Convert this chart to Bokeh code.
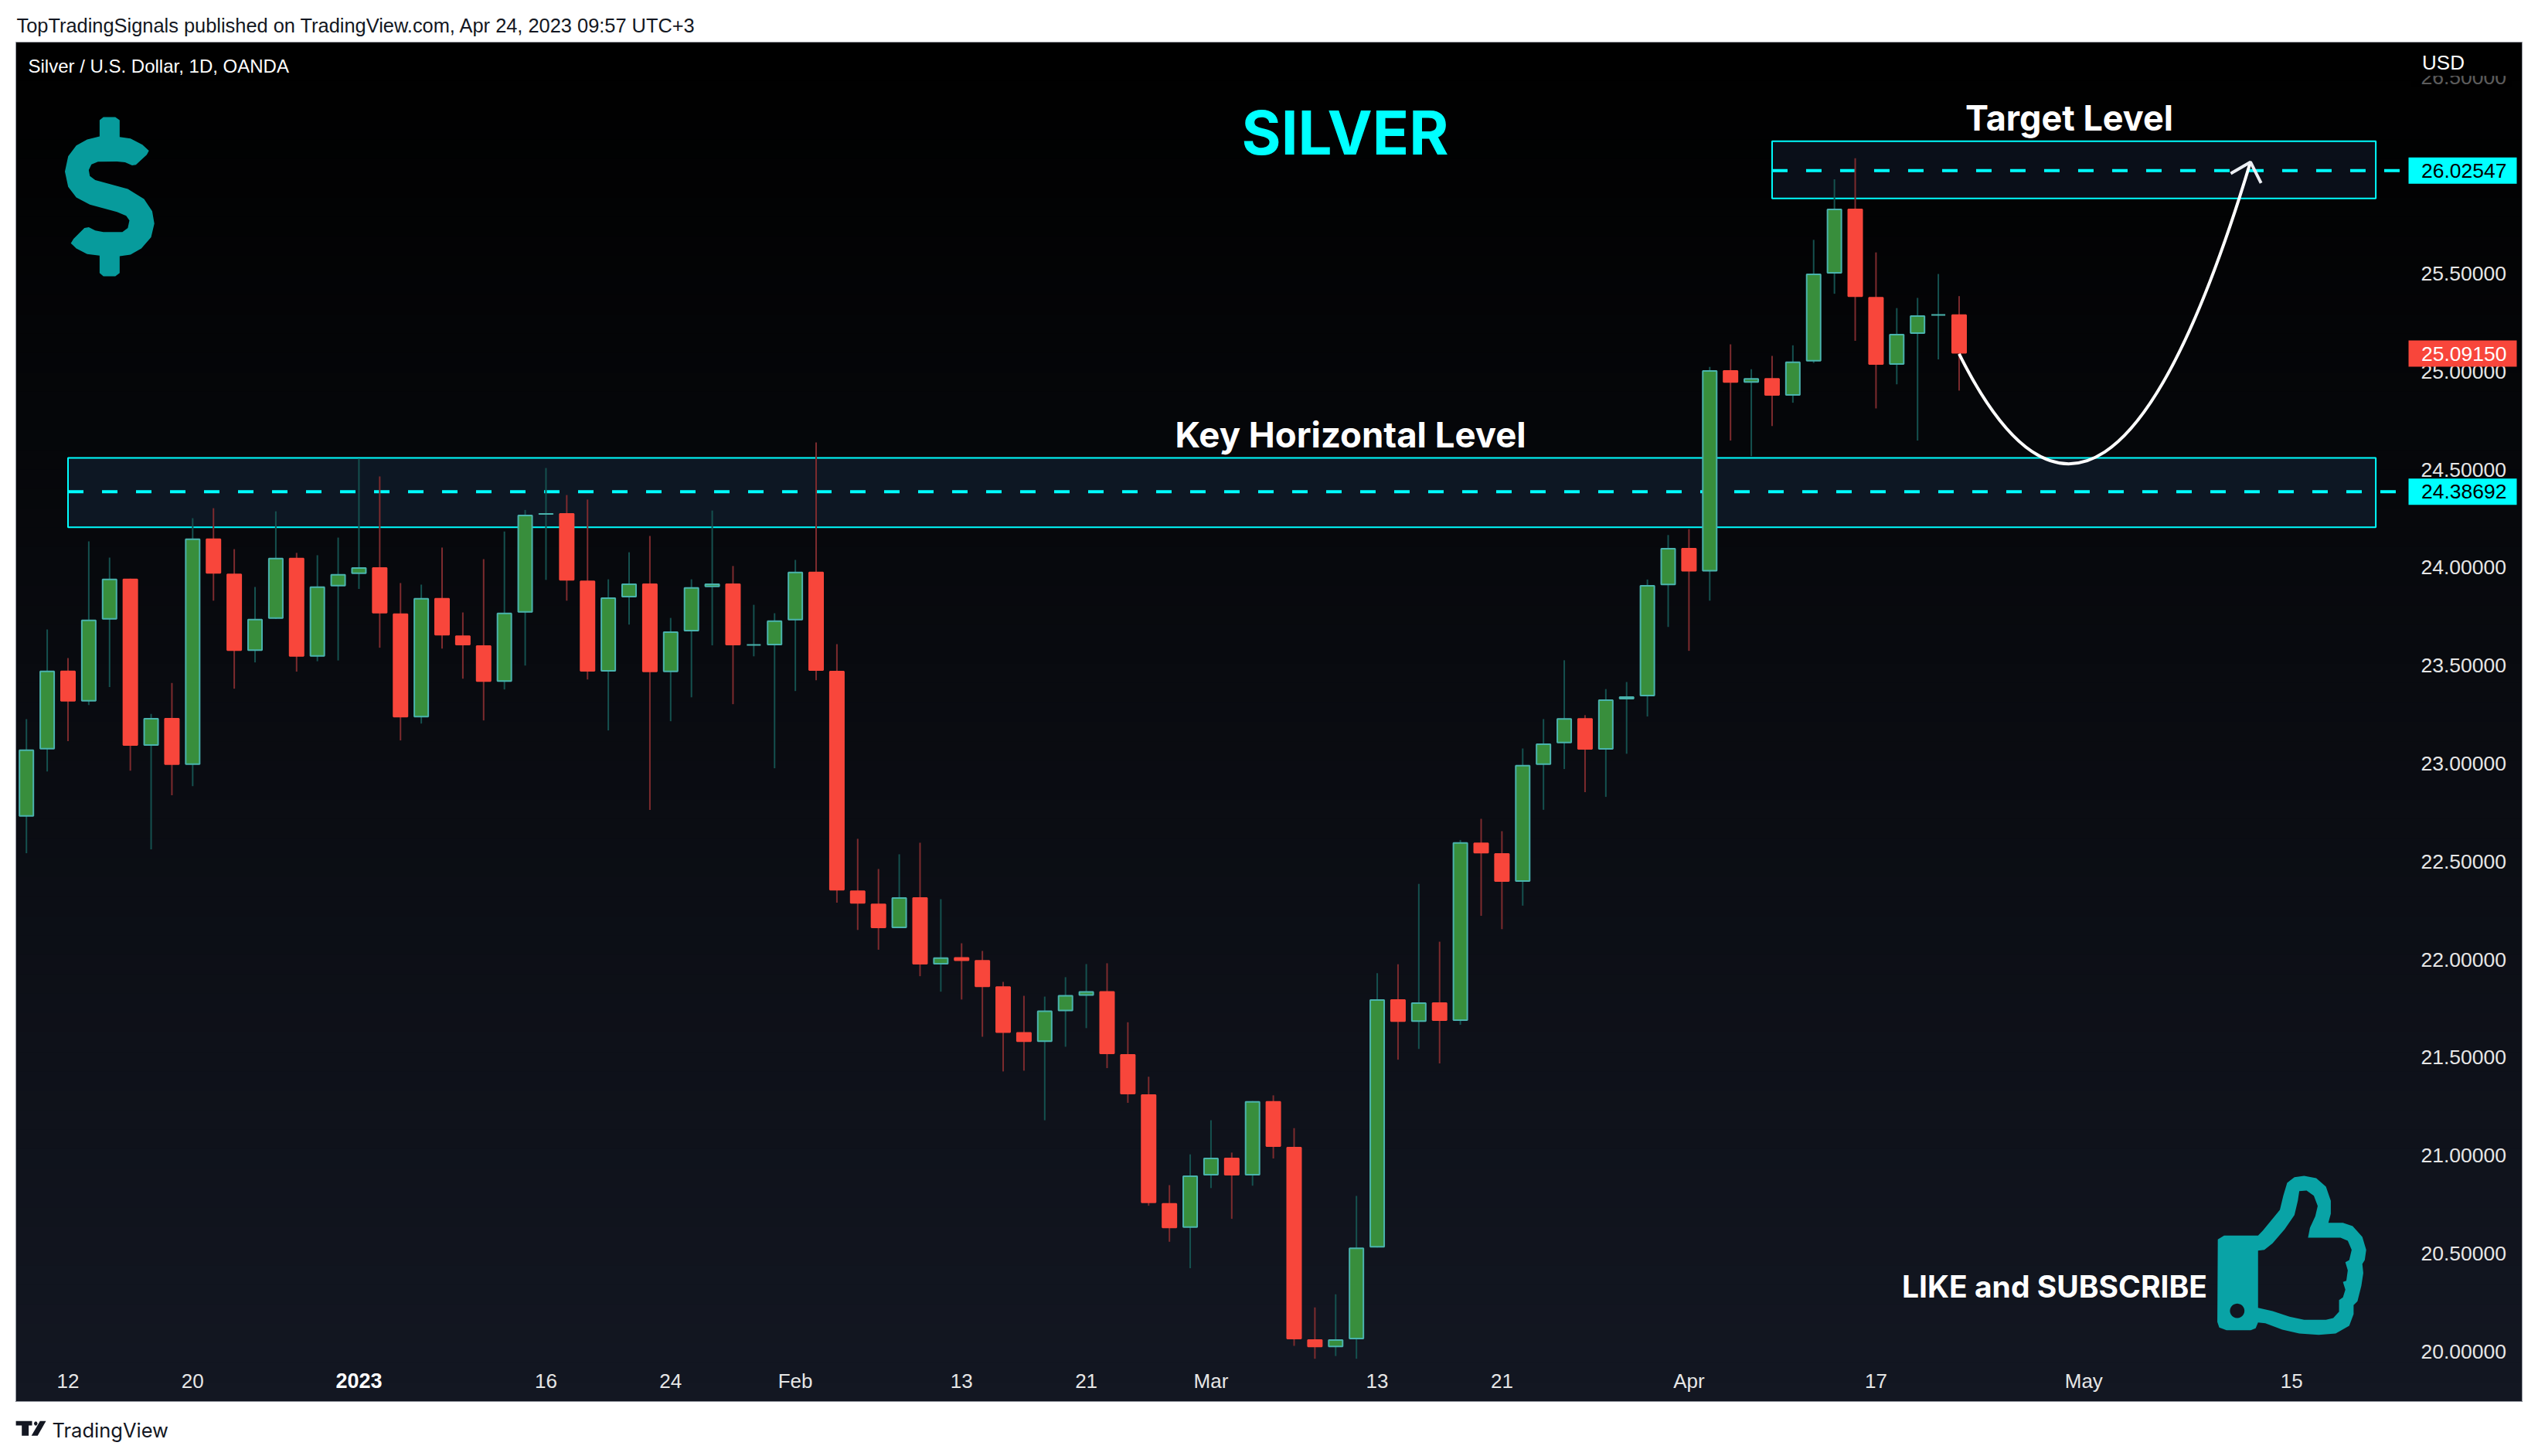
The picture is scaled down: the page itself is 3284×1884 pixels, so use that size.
from bokeh.embed import file_html
from bokeh.resources import INLINE
from bokeh.plotting import figure
from bokeh.models import (Range1d, LinearAxis, FixedTicker, NumeralTickFormatter, Label)
from bokeh.core.properties import value
import numpy as np

# ---------- data ----------
opens = [22.729,23.072,23.474,23.316,23.734,23.943,23.091,23.233,22.993,24.148,
         23.969,23.575,23.738,24.050,23.545,23.904,23.967,24.002,23.766,23.236,
         23.845,23.654,23.603,23.417,23.770,24.270,24.278,23.934,23.469,23.848,
         23.919,23.466,23.674,23.900,23.919,23.603,23.603,23.730,23.979,23.473,
         22.352,22.285,22.160,22.318,21.975,22.012,21.997,21.863,21.630,21.579,
         21.736,21.815,21.839,21.517,21.312,20.757,20.631,20.898,20.989,20.898,
         21.278,21.044,20.062,20.022,20.062,20.531,21.797,21.682,21.782,21.687,
         22.597,22.543,22.397,22.993,23.104,23.232,23.071,23.327,23.343,23.910,
         24.100,23.980,25.007,24.943,24.967,24.877,25.051,25.500,25.831,25.381,
         25.035,25.192,25.288,25.292]
highs = [23.227,23.684,23.538,24.134,24.051,23.943,23.253,23.411,24.252,24.303,
         24.094,23.901,24.287,24.075,24.063,24.153,24.556,24.465,23.921,23.913,
         24.102,23.771,24.043,24.184,24.294,24.508,24.370,24.347,23.940,24.078,
         24.161,23.743,23.940,24.291,24.008,23.810,23.767,24.039,24.638,23.609,
         22.616,22.462,22.537,22.596,22.308,22.083,22.044,21.886,21.815,21.811,
         21.910,21.977,21.981,21.680,21.402,20.849,21.006,21.180,21.015,21.278,
         21.307,21.140,20.225,20.292,20.794,21.930,21.976,22.386,22.091,22.610,
         22.718,22.655,23.077,23.227,23.527,23.247,23.380,23.416,23.939,24.166,
         24.196,25.024,25.139,25.012,25.080,25.134,25.672,25.981,26.089,25.608,
         25.324,25.376,25.498,25.385]
lows  = [22.543,22.960,23.114,23.299,23.390,22.964,22.562,22.838,22.885,23.831,
         23.382,23.516,23.738,23.469,23.522,23.526,23.891,23.591,23.118,23.204,
         23.587,23.433,23.220,23.378,23.500,23.937,23.831,23.429,23.169,23.709,
         22.763,23.216,23.338,23.603,23.303,23.547,22.976,23.370,23.425,22.290,
         22.151,22.050,22.160,21.915,21.836,21.796,21.606,21.429,21.433,21.180,
         21.555,21.650,21.446,21.269,20.744,20.560,20.425,20.834,20.677,20.846,
         20.985,20.029,19.963,19.977,19.963,20.531,21.489,21.544,21.470,21.667,
         22.223,22.155,22.275,22.764,22.972,22.854,22.830,23.050,23.240,23.697,
         23.575,23.831,24.648,24.568,24.722,24.841,25.044,25.397,25.157,24.812,
         24.935,24.648,25.062,24.903]
closes= [23.072,23.474,23.316,23.734,23.943,23.091,23.233,22.993,24.148,23.969,
         23.575,23.738,24.050,23.545,23.904,23.967,24.002,23.766,23.236,23.845,
         23.654,23.603,23.417,23.770,24.270,24.278,23.934,23.469,23.848,23.919,
         23.466,23.674,23.900,23.919,23.603,23.608,23.730,23.979,23.473,22.352,
         22.285,22.160,22.318,21.975,22.011,21.993,21.859,21.626,21.579,21.740,
         21.819,21.839,21.517,21.312,20.757,20.629,20.898,20.989,20.898,21.278,
         21.044,20.062,20.022,20.062,20.531,21.797,21.682,21.782,21.687,22.599,
         22.542,22.397,22.993,23.103,23.232,23.071,23.327,23.343,23.911,24.100,
         23.980,25.007,24.943,24.967,24.877,25.051,25.500,25.831,25.381,25.035,
         25.192,25.287,25.291,25.0915]
x_tick_idx    = [2, 8, 25, 31, 37, 45, 51, 57, 65, 71, 80, 89, 99, 109]
x_tick_labels = ["12","20","16","24","Feb","13","21","Mar","13","21","Apr","17","May","15"]
y_ticks = [20.0,20.5,21.0,21.5,22.0,22.5,23.0,23.5,24.0,24.5,25.0,25.5,26.0,26.5]
key_level, key_top, key_bottom = 24.38692, 24.560, 24.206
target_level, target_top, target_bottom = 26.02547, 26.175, 25.883
last_price = 25.09150
box_left_key, box_left_target, box_right, dash_end = 2.0, 84.0, 113.05, 114.2
curve = dict(x0=93.0, y0=25.09, cx=100.0, cy=23.60, x1=107.02, y1=26.069)
head_x = [106.07, 107.02, 107.53]
head_y = [26.011, 26.069, 25.962]

# ---------- reference-pixel helpers ----------
BAR, X0, PPU, Y24 = 26.89, 33.7, 253.6, 733.9
def ix(px): return (px - X0) / BAR
def pr(py): return 24 - (py - Y24) / PPU

PAGE_W, PAGE_H = 3276, 1876
# the frame covers the whole page, so the header and footer can live in it
p = figure(width=PAGE_W, height=PAGE_H, output_backend="svg", toolbar_location=None,
           x_range=Range1d(ix(0), ix(PAGE_W)), y_range=Range1d(pr(PAGE_H), pr(0)),
           min_border_left=0, min_border_right=0, min_border_top=0, min_border_bottom=0,
           x_axis_type=None, y_axis_type=None,
           border_fill_color="#ffffff", background_fill_color="#ffffff",
           outline_line_color=None)
p.grid.visible = False

# vertical gradient: each strip runs to the bottom, painted from top to bottom
N = 70
t = np.linspace(0, 1, N, endpoint=False)
tops = pr(54 + t * (1813 - 54))
cols = ["#%02x%02x%02x" % (round(19*a), round(23*a), round(34*a)) for a in t]
p.quad(left=ix(20), right=ix(3263), top=tops, bottom=pr(1813), fill_color=cols, line_color=None)
p.quad(left=[ix(20)], right=[ix(3263)], top=[pr(54)], bottom=[pr(1813)], fill_color=None,
       line_color="#9598a1", line_width=1)

# zones
p.quad(left=[box_left_key], right=[box_right], top=[key_top], bottom=[key_bottom],
       fill_color="#0d1723", line_color="#00ffff", line_width=2)
p.quad(left=[box_left_target], right=[box_right], top=[target_top], bottom=[target_bottom],
       fill_color="#0a0f19", line_color="#00ffff", line_width=2)
p.line([box_left_key, dash_end], [key_level]*2, line_color="#00ffff", line_width=4, line_dash="20 24")
p.line([box_left_target, dash_end], [target_level]*2, line_color="#00ffff", line_width=4, line_dash="20 24")

# candles
o, h, l, c = map(np.array, (opens, highs, lows, closes))
idx = np.arange(len(o))
up = c >= o
inset = 1 / PPU
hw = 9 / BAR
top = np.maximum(np.maximum(o, c) - inset, (o + c) / 2)
bot = np.minimum(np.minimum(o, c) + inset, (o + c) / 2)
p.segment(idx, h, idx, l, line_color=np.where(up, "#15514f", "#7d2b2e").tolist(), line_width=2)
p.quad(left=idx - hw, right=idx + hw, top=top, bottom=bot,
       fill_color=np.where(up, "#388e3c", "#f8463b").tolist(),
       line_color=np.where(up, "#4ab3ad", "#f8463b").tolist(), line_width=2)

# curved arrow
p.quadratic(x0=[curve["x0"]], y0=[curve["y0"]], x1=[curve["x1"]], y1=[curve["y1"]],
            cx=[curve["cx"]], cy=[curve["cy"]], line_color="#ffffff", line_width=4)
p.line(head_x, head_y, line_color="#eceff4", line_width=4)

# thumb icon (outline traced in reference pixels)
tu_o = [907,920,990,1000,1035,1042,1050,1065,1085,1110,1130,1140,1140,1135,1165,1185,1205,1213,1210,1205,1207,1203,1195,1187,1187,1178,1150,1115,1075,1040,1005,990,985,975,925,910,906]
tv_o = [490,475,475,455,375,320,270,248,243,252,285,340,390,425,425,438,480,530,570,585,620,670,730,745,780,825,855,860,855,840,815,812,835,842,842,832,810]
tu_i = [990,1003,1020,1045,1065,1072,1075,1090,1105,1113,1108,1097,1093,1160,1175,1183,1178,1170,1175,1172,1165,1170,1165,1157,1157,1145,1130,1085,1055,1020,990]
tv_i = [533,530,505,450,395,340,302,300,320,360,400,445,483,483,495,530,570,578,610,650,655,685,715,725,770,795,802,802,790,768,755]
a = np.linspace(0, 2*np.pi, 24, endpoint=False)
def tx(u): return ix(2300 + np.asarray(u, float) / 1.5935)
def ty(v): return pr(1440 + np.asarray(v, float) / 3)
p.multi_polygons(xs=[[[tx(tu_o), tx(tu_i), tx(947 + 15*np.cos(a))]]],
                 ys=[[[ty(tv_o), ty(tv_i), ty(767 + 28*np.sin(a))]]],
                 fill_color="#09a3a6", line_color=None)

# dollar icon (outline traced in reference pixels)
du = [183,183,190,212,220,220,240,262,274,270,250,243,230,215,180,168,163,165,175,235,265,280,284,278,260,240,220,220,212,190,183,183,160,140,130,135,155,163,175,190,225,235,238,232,215,165,140,125,119,125,140,160]
dv = [445,392,382,382,392,447,452,472,492,505,538,540,530,527,528,537,555,575,588,617,650,690,730,775,812,832,837,892,903,903,892,835,830,812,795,780,745,742,753,758,758,745,720,705,692,668,645,610,560,510,475,455]
p.patch(ix(np.asarray(du, float) / 1.4255), pr(np.asarray(dv, float) / 2.529), fill_color="#079b9c", line_color=None)

# TradingView logo
LOGO_X = [[20.1,41,41,36.6,36.6,27.7,27.7,20.1], [51.3,59,48.2,40.2], [48.2,46.9,44.6,43.3,44.6,46.9]]
LOGO_Y = [[1838.3,1838.3,1844,1844,1857.3,1857.3,1844,1844], [1838.3,1838.3,1857.3,1857.3], [1841.5,1844,1844,1841.5,1839,1839]]
p.patches([[ix(v) for v in xs] for xs in LOGO_X], [[pr(v) for v in ys] for ys in LOGO_Y],
          fill_color="#131722", line_color=None)

# axes, labels kept inside the panel
yax = LinearAxis(ticker=FixedTicker(ticks=y_ticks), formatter=NumeralTickFormatter(format="0.00000"),
                 axis_line_color=None, major_tick_line_color=None, minor_tick_line_color=None,
                 major_tick_in=0, major_tick_out=0, minor_tick_in=0, minor_tick_out=0,
                 major_label_text_color="#e6e6e6", major_label_text_font="Liberation Sans",
                 major_label_text_font_size="26.5px", major_label_standoff=-(PAGE_W - 3132))
p.add_layout(yax, "right")
xax = LinearAxis(ticker=FixedTicker(ticks=x_tick_idx),
                 major_label_overrides=dict(zip(x_tick_idx, x_tick_labels)),
                 axis_line_color=None, major_tick_line_color=None, minor_tick_line_color=None,
                 major_tick_in=0, major_tick_out=0, minor_tick_in=0, minor_tick_out=0,
                 major_label_text_color="#e6e6e6", major_label_text_font="Liberation Sans",
                 major_label_text_font_size="26px", major_label_standoff=-(PAGE_H - 1813 + 42))
p.add_layout(xax, "below")

# price tags and the faded top tick, over the axis
def over(r):
    r.level = "annotation"
    return r
TAG_L, TAG_R, TAG_H = ix(3116), ix(3256), 17 / PPU
for lev, fill, txt in [(target_level, "#00ffff", "#000000"), (key_level, "#00ffff", "#000000"),
                       (last_price, "#f8463b", "#ffffff")]:
    over(p.quad(left=[TAG_L], right=[TAG_R], top=[lev + TAG_H], bottom=[lev - TAG_H], fill_color=fill, line_color=None))
    over(p.text(x=[ix(3243)], y=[lev], text=["%.5f" % lev], text_color=txt, text_align="right",
                text_baseline="middle", text_font=value("Liberation Sans"), text_font_size="26.5px"))
over(p.quad(left=[ix(3120)], right=[ix(3250)], top=[pr(90)], bottom=[pr(98)], fill_color="#000000", line_color=None))
over(p.quad(left=[ix(3120)], right=[ix(3250)], top=[pr(98)], bottom=[pr(112)], fill_color="#000000", fill_alpha=0.6, line_color=None))

def lab(px, py, text, size, color, font="Inter", bold=False, align="center", baseline="middle"):
    p.add_layout(Label(x=ix(px), y=pr(py), text=text, text_font=font, text_font_size=f"{size}px",
                       text_color=color, text_font_style="bold" if bold else "normal",
                       text_align=align, text_baseline=baseline, level="annotation"))

lab(464, 1786, "2023", 27, "#ffffff", font="Liberation Sans", bold=True)
lab(21, 32, "TopTradingSignals published on TradingView.com, Apr 24, 2023 09:57 UTC+3", 25.4, "#131722", font="Liberation Sans", align="left")
lab(36, 85, "Silver / U.S. Dollar, 1D, OANDA", 24, "#ffffff", font="Liberation Sans", align="left")
lab(3161, 80, "USD", 26, "#ffffff", font="Liberation Sans")
lab(1740, 171, "SILVER", 78, "#00ffff", bold=True)
lab(1747, 562, "Key Horizontal Level", 45.5, "#ffffff", bold=True)
lab(2677, 152, "Target Level", 45, "#ffffff", bold=True)
lab(2658, 1664, "LIKE and SUBSCRIBE", 39, "#ffffff", bold=True)
lab(67, 1850, "TradingView", 25.5, "#131722", font="Inter", align="left")

open("out.html", "w").write(file_html(p, INLINE))
